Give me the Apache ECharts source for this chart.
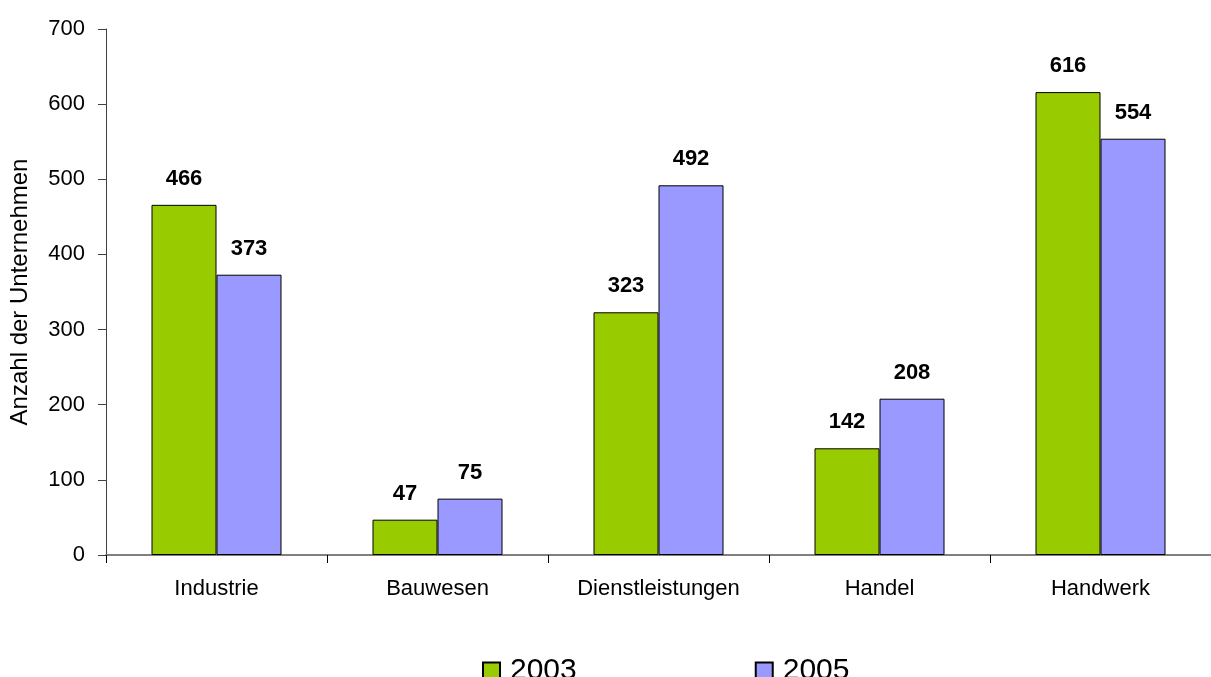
<!DOCTYPE html>
<html><head><meta charset="utf-8">
<script src="https://cdn.jsdelivr.net/npm/echarts@6/dist/echarts.min.js"></script>
<style>html,body{margin:0;padding:0;background:#fff}#c{width:1211px;height:677px}</style>
</head><body><div id="c"></div>
<script>
const categories = ['Industrie','Bauwesen','Dienstleistungen','Handel','Handwerk'];
const values2003 = [466, 47, 323, 142, 616];
const values2005 = [373, 75, 492, 208, 554];
const seriesNames = ['2003','2005'];
const yTicks = {min:0, max:700, interval:100};

const chart = echarts.init(document.getElementById('c'));
const font = 'Liberation Sans, Arial, sans-serif';
const labelOpt = {show:true, position:'top', distance:15, fontFamily:font, fontSize:22, fontWeight:'bold', color:'#000'};
chart.setOption({
  animation:false,
  grid:{left:106, top:29, width:1115, height:526},
  legend:{
    data:seriesNames, left:477, top:651, itemWidth:17, itemHeight:17, itemGap:178,
    textStyle:{fontFamily:font, fontSize:30, color:'#000', padding:[0,0,0,5]},
    icon:'rect'
  },
  xAxis:{
    type:'category', data:categories,
    axisLine:{lineStyle:{color:'#808080', width:2}},
    axisTick:{show:true, length:8, lineStyle:{color:'#000'}},
    axisLabel:{fontFamily:font, fontSize:22, color:'#000', margin:23}
  },
  yAxis:{
    type:'value', min:yTicks.min, max:yTicks.max, interval:yTicks.interval,
    name:'Anzahl der Unternehmen', nameLocation:'middle', nameGap:74, nameRotate:90,
    nameTextStyle:{fontFamily:font, fontSize:24, color:'#000'},
    axisLine:{show:true, lineStyle:{color:'#404040', width:1}},
    axisTick:{show:true, length:8, lineStyle:{color:'#404040'}},
    axisLabel:{fontFamily:font, fontSize:22, color:'#000', margin:21},
    splitLine:{show:false}
  },
  series:[
    {name:seriesNames[0], type:'bar', data:values2003, barWidth:65, barGap:'0%',
     itemStyle:{color:'#99CC00', borderColor:'#000', borderWidth:1}, label:labelOpt},
    {name:seriesNames[1], type:'bar', data:values2005, barWidth:65, barGap:'0%',
     itemStyle:{color:'#9999FF', borderColor:'#000', borderWidth:1}, label:labelOpt}
  ]
});
</script></body></html>
